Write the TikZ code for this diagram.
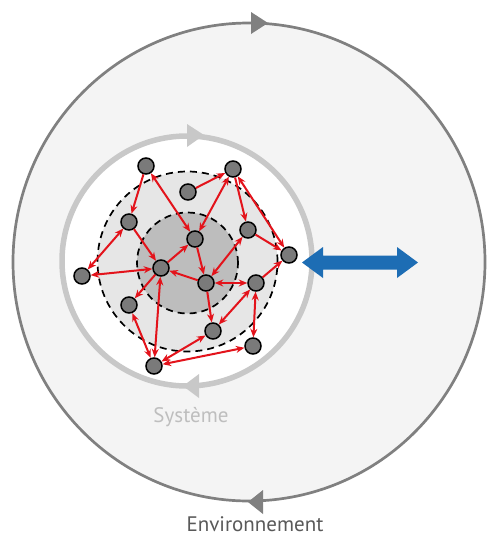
\documentclass[tikz,border=0pt]{standalone}
\usepackage{fontspec}
\setmainfont{PT Sans}
\usetikzlibrary{arrows.meta}
\definecolor{envgray}{HTML}{808080}
\definecolor{envfill}{HTML}{F4F4F4}
\definecolor{sysgray}{HTML}{C8C8C8}
\definecolor{systext}{HTML}{BEBEBE}
\definecolor{envtext}{HTML}{595959}
\definecolor{zoneone}{HTML}{E6E6E6}
\definecolor{zonetwo}{HTML}{BDBDBD}
\definecolor{nodegray}{HTML}{7A7A7A}
\definecolor{linkred}{HTML}{E3131B}
\definecolor{flowblue}{HTML}{1D6DB4}
\begin{document}
\begin{tikzpicture}[x=1pt,y=-1pt,
  particle/.style={circle,draw=black,fill=nodegray,line width=1.5pt,minimum size=16pt,inner sep=0pt},
  link/.style={draw=linkred,line width=2pt},
  one/.style={link,-{Stealth[length=8.5pt,width=7pt]}},
  two/.style={link,{Stealth[length=8.5pt,width=7pt]}-{Stealth[length=8.5pt,width=7pt]}},
  zone/.style={draw=black,dash pattern=on 7pt off 5pt,line width=1.7pt},
  label/.style={font=\fontsize{21}{25}\selectfont,inner sep=0pt}]
\useasboundingbox (0,0) rectangle (487,544);
\fill[white] (0,0) rectangle (487,544);
% environment
\draw[envgray,line width=2.7pt,fill=envfill] (249,262) ellipse [x radius=236pt,y radius=239pt];
\fill[envgray] (251,12) -- (268,23) -- (251,34) -- cycle;
\fill[envgray] (263,490) -- (248,502) -- (263,514) -- cycle;
% system
\draw[sysgray,line width=5.5pt,fill=white] (187,261) circle[radius=125pt];
\fill[sysgray] (187,124) -- (204,135) -- (187,147) -- cycle;
\fill[sysgray] (199,374) -- (183,386) -- (199,398) -- cycle;
% zones
\draw[zone,fill=zoneone] (187.5,261.5) circle[radius=90pt];
\draw[zone,fill=zonetwo] (187.5,263) circle[radius=50.5pt];
% particles
\node[particle] (n1) at (146,166) {};
\node[particle] (n2) at (233,169) {};
\node[particle] (n3) at (188,192) {};
\node[particle] (n4) at (129,222) {};
\node[particle] (n5) at (248,230) {};
\node[particle] (n6) at (195,239) {};
\node[particle] (n7) at (289,255) {};
\node[particle] (n8) at (82,276) {};
\node[particle] (n9) at (161,268) {};
\node[particle] (n10) at (206,283) {};
\node[particle] (n11) at (256,283) {};
\node[particle] (n12) at (129,305) {};
\node[particle] (n13) at (213,331) {};
\node[particle] (n14) at (253,346) {};
\node[particle] (n15) at (154,366) {};
% interactions
\draw[one] (n1) -- (n4);
\draw[two] (n1) -- (n6);
\draw[one] (n3) -- (n2);
\draw[two] (n2) -- (n6);
\draw[one] (n2) -- (n5);
\draw[two] (n2) -- (n7);
\draw[one] (n5) -- (n7);
\draw[one] (n4) -- (n9);
\draw[two] (n8) -- (n4);
\draw[two] (n8) -- (n9);
\draw[one] (n9) -- (n6);
\draw[one] (n6) -- (n10);
\draw[one] (n10) -- (n9);
\draw[two] (n5) -- (n10);
\draw[two] (n11) -- (n10);
\draw[one] (n11) -- (n7);
\draw[one] (n9) -- (n12);
\draw[two] (n9) -- (n15);
\draw[one] (n10) -- (n13);
\draw[two] (n11) -- (n13);
\draw[two] (n11) -- (n14);
\draw[two] (n12) -- (n15);
\draw[two] (n13) -- (n15);
\draw[two] (n14) -- (n15);
% exchange with environment
\fill[flowblue] (302,262.5) -- (323,247) -- (323,255.5) -- (397,255.5) -- (397,247) -- (418,262.5) -- (397,278) -- (397,269.5) -- (323,269.5) -- (323,278) -- cycle;
% labels
\node[label,text=systext] (sys) at (191,417) {Système};
\node[label,text=envtext] (env) at (255,524) {Environnement};
\end{tikzpicture}
\end{document}
